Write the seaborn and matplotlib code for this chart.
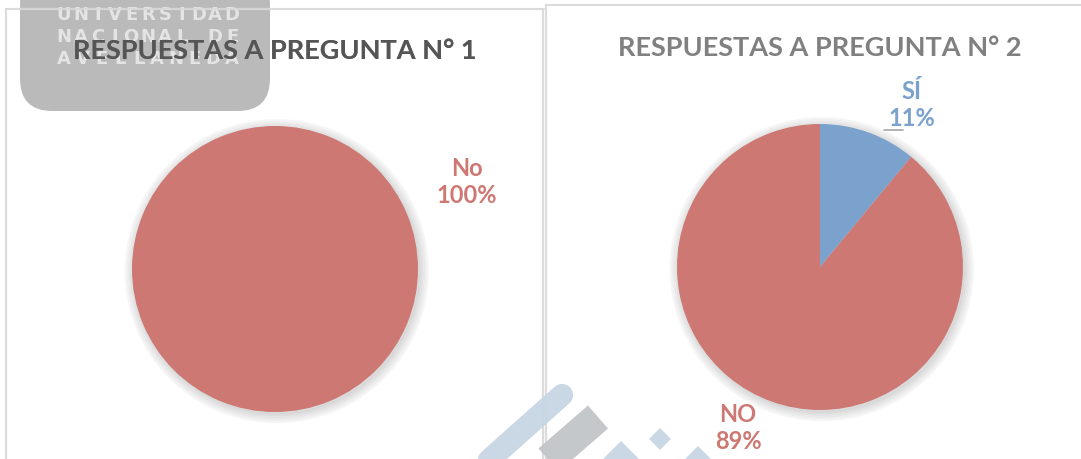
import numpy as np
import matplotlib
matplotlib.use("Agg")
import matplotlib.pyplot as plt
import seaborn as sns
from matplotlib.patches import Circle, FancyBboxPatch, Polygon
from matplotlib.lines import Line2D

# data
titles = ["RESPUESTAS A PREGUNTA N° 1", "RESPUESTAS A PREGUNTA N° 2"]
p1_labels = ["No"]
p1_values = [100]
p2_labels = ["SÍ", "NO"]
p2_values = [11, 89]

red = "#CD7873"
blue = "#7BA1CD"
title_grey = "#808080"

sns.set_style("white")
plt.rcParams["font.family"] = ["Lato", "DejaVu Sans"]

W, H = 1081, 460
fig = plt.figure(figsize=(W / 100, H / 100), dpi=100)


def fx(x):
    return x / W


def fy(y):
    return 1 - y / H


# watermark box (top-left)
box = FancyBboxPatch((fx(20), fy(112)), fx(250), 0.3, boxstyle="round,pad=0,rounding_size=0.03",
                     transform=fig.transFigure, facecolor="#bababa", edgecolor="none", zorder=0,
                     mutation_aspect=W / H)
fig.patches.append(box)
for i, t in enumerate(["UNIVERSIDAD", "NACIONAL DE", "AVELLANEDA"]):
    n = len(t)
    for j, ch in enumerate(t):
        xc = 64 + j * (168 / (n - 1))
        fig.text(fx(xc), fy(15 + 22 * i), ch, ha="center", va="center", fontsize=13,
                 fontweight="bold", color="#e4e4e4", zorder=1, family=["DejaVu Sans"])

# panel borders
border = "#d9d9d9"
for (x0, y0, x1, y1) in [(6, 10, 544, 10), (6, 10, 6, 460), (543, 10, 543, 460),
                         (546, 6, 1081, 6), (546, 6, 546, 460)]:
    fig.add_artist(Line2D([fx(x0), fx(x1)], [fy(y0), fy(y1)], transform=fig.transFigure,
                          color=border, lw=1.6, zorder=2, alpha=0.9))

# titles
tfs = 19.5
for cx, cy, t in zip([275, 820], [51, 48], titles):
    fig.text(fx(cx), fy(cy), t, ha="center", va="center", fontsize=tfs, fontweight="bold",
             color=title_grey, zorder=3)
dark = fig.text(fx(275), fy(51), titles[0], ha="center", va="center", fontsize=tfs,
                fontweight="bold", color="#555555", zorder=4)
dark.set_clip_path(box)

r = 143
lfs = 17


def pie_axes(cx, cy):
    ax = fig.add_axes([fx(cx - r), fy(cy + r), fx(2 * r), 2 * r / H])
    ax.set_xlim(-1, 1)
    ax.set_ylim(-1, 1)
    ax.axis("off")
    ax.set_zorder(5)
    for k in range(6):
        ax.add_patch(Circle((0.012, -0.015), 1.0 + 0.012 * k, color="black",
                            alpha=0.025, zorder=0, clip_on=False))
    return ax


# chart 1
ax1 = pie_axes(275, 270)
ax1.pie(p1_values, colors=[red], startangle=90, counterclock=False,
        wedgeprops=dict(linewidth=0))
ax1.set_xlim(-1, 1)
ax1.set_ylim(-1, 1)
ax1.text(1.343, 0.615, f"{p1_labels[0]}\n{p1_values[0] / sum(p1_values):.0%}", ha="center",
         va="center", fontsize=lfs, fontweight="bold", color=red, linespacing=1.2)

# chart 2
ax2 = pie_axes(820, 268)
ax2.pie(p2_values, colors=[blue, red], startangle=90, counterclock=False,
        wedgeprops=dict(linewidth=0))
ax2.set_xlim(-1, 1)
ax2.set_ylim(-1, 1)
tot = sum(p2_values)
ax2.text(0.643, 1.14, f"{p2_labels[0]}\n{p2_values[0] / tot:.0%}", ha="center", va="center",
         fontsize=lfs, fontweight="bold", color=blue, linespacing=1.2)
ax2.text(-0.573, -1.119, f"{p2_labels[1]}\n{p2_values[1] / tot:.0%}", ha="center", va="center",
         fontsize=lfs, fontweight="bold", color=red, linespacing=1.2, zorder=10)
ax2.plot([0.45, 0.58], [0.96, 0.96], color="#a6a6a6", lw=1.2, clip_on=False)

# logo watermark at bottom
lb, lg = "#c6d6e3", "#c2c5c9"
fig.add_artist(Line2D([fx(470), fx(562)], [fy(478), fy(396)], transform=fig.transFigure,
                      color=lb, lw=16, solid_capstyle="round", zorder=3, alpha=0.95))
fig.add_artist(Line2D([fx(515), fx(598)], [fy(490), fy(418)], transform=fig.transFigure,
                      color=lg, lw=22, solid_capstyle="butt", zorder=3, alpha=0.95))
for (cx, cy, s) in [(621, 463, 21), (660, 440, 11), (698, 466, 19)]:
    fig.patches.append(Polygon([(fx(cx - s), fy(cy)), (fx(cx), fy(cy - s)), (fx(cx + s), fy(cy)),
                                (fx(cx), fy(cy + s))], closed=True, transform=fig.transFigure,
                               facecolor=lb, edgecolor="none", zorder=3, alpha=0.95))

fig.savefig("out.png", dpi=100, facecolor="white")
